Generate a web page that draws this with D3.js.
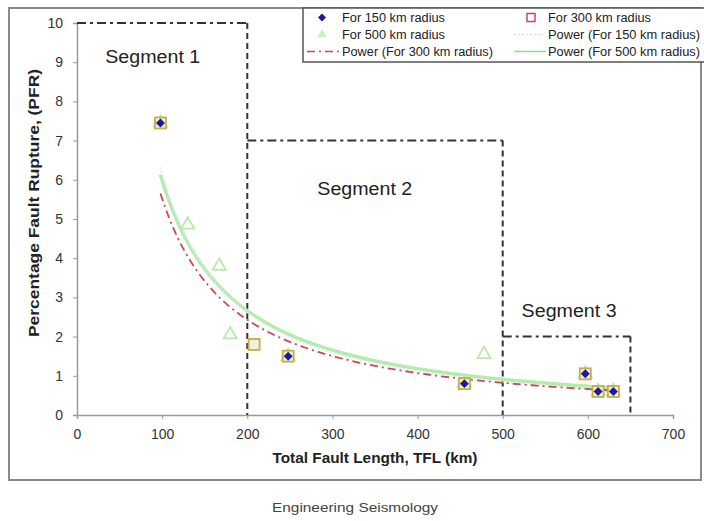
<!DOCTYPE html>
<html><head><meta charset="utf-8">
<script src="https://cdn.jsdelivr.net/npm/d3@7"></script>
<style>body{margin:0;background:#fff}svg{display:block;font-family:Arial,"Liberation Sans",sans-serif}</style>
</head><body><svg id="c" width="704" height="521"></svg>
<script>
// Data
const tfl150 = [98, 248, 455, 597, 612, 630];
const pfr150 = [7.45, 1.5, 0.8, 1.05, 0.6, 0.6];
const tfl300 = [98, 208, 248, 455, 597, 612, 630];
const pfr300 = [7.45, 1.8, 1.5, 0.8, 1.05, 0.6, 0.6];
const tfl500 = [98, 130, 167, 180, 248, 455, 478, 597, 612, 630];
const pfr500 = [7.45, 4.85, 3.8, 2.05, 1.5, 0.8, 1.55, 1.05, 0.6, 0.6];
const xTicks = [0, 100, 200, 300, 400, 500, 600, 700];
const yTicks = [0, 1, 2, 3, 4, 5, 6, 7, 8, 9, 10];
// segment boxes: [xStart, xEnd, top]
const segX0 = [0, 200, 500];
const segX1 = [200, 500, 650];
const segTop = [10, 7, 2];
const segLabels = ["Segment 1", "Segment 2", "Segment 3"];
const segLabelX = [89, 338, 578];
const segLabelY = [8.98, 5.6, 2.5];

const FONT = "Arial, 'Liberation Sans', sans-serif";
const svg = d3.select("#c");
const x = d3.scaleLinear().domain([0, 700]).range([77, 673]);
const y = d3.scaleLinear().domain([0, 10]).range([415, 23]);

// outer frame
svg.append("rect").attr("x", 9).attr("y", 8).attr("width", 692).attr("height", 472)
  .attr("fill", "none").attr("stroke", "#8a8a8a").attr("stroke-width", 2);

// axes
const gx = svg.append("g").attr("transform", `translate(0,${y(0)})`)
  .call(d3.axisBottom(x).tickValues(xTicks).tickSize(4).tickPadding(10));
const gy = svg.append("g").attr("transform", `translate(${x(0)},0)`)
  .call(d3.axisLeft(y).tickValues(yTicks).tickSize(4).tickPadding(10));
[gx, gy].forEach(g => {
  g.select(".domain").attr("stroke", "#9a9a9a").attr("stroke-width", 1.5);
  g.selectAll(".tick line").attr("stroke", "#9a9a9a");
  g.selectAll(".tick text").attr("fill", "#333").attr("font-size", 14).attr("font-family", FONT);
});

// axis titles
svg.append("text").attr("x", 375).attr("y", 463).attr("text-anchor", "middle")
  .attr("font-size", 14).attr("font-weight", "bold").attr("fill", "#222")
  .attr("textLength", 205).attr("lengthAdjust", "spacingAndGlyphs")
  .text("Total Fault Length, TFL (km)");
svg.append("text").attr("transform", "translate(39,203) rotate(-90)").attr("text-anchor", "middle")
  .attr("font-size", 14).attr("font-weight", "bold").attr("fill", "#222")
  .attr("textLength", 268).attr("lengthAdjust", "spacingAndGlyphs")
  .text("Percentage Fault Rupture, (PFR)");

// segment boxes
const segStroke = "#333";
segX0.forEach((s, i) => {
  svg.append("line").attr("x1", x(s)).attr("x2", x(segX1[i])).attr("y1", y(segTop[i])).attr("y2", y(segTop[i]))
    .attr("stroke", segStroke).attr("stroke-width", 2).attr("stroke-dasharray", "9,4,3,4");
  svg.append("line").attr("x1", x(segX1[i])).attr("x2", x(segX1[i])).attr("y1", y(segTop[i])).attr("y2", y(0))
    .attr("stroke", segStroke).attr("stroke-width", 2).attr("stroke-dasharray", "6,4");
  svg.append("text").attr("x", x(segLabelX[i])).attr("y", y(segLabelY[i])).attr("text-anchor", "middle")
    .attr("font-size", 18).attr("fill", "#222")
    .attr("textLength", 95).attr("lengthAdjust", "spacingAndGlyphs").text(segLabels[i]);
});

// power fit (least squares on log-log)
function powerFit(xs, ys) {
  const lx = xs.map(Math.log), ly = ys.map(Math.log);
  const mx = d3.mean(lx), my = d3.mean(ly);
  const b = d3.sum(lx.map((v, i) => (v - mx) * (ly[i] - my))) / d3.sum(lx.map(v => (v - mx) ** 2));
  const a = Math.exp(my - b * mx);
  return { a, b, x0: d3.min(xs), x1: d3.max(xs) };
}
function curvePts(f) {
  return d3.range(0, 101).map(k => {
    const xv = f.x0 + (f.x1 - f.x0) * k / 100;
    return [x(xv), y(f.a * Math.pow(xv, f.b))];
  });
}
const line = d3.line();
const f150 = powerFit(tfl150, pfr150), f300 = powerFit(tfl300, pfr300), f500 = powerFit(tfl500, pfr500);
svg.append("path").attr("d", line(curvePts(f500))).attr("fill", "none").attr("stroke", "#b4ecac").attr("stroke-width", 3.5);
svg.append("path").attr("d", line(curvePts(f150))).attr("fill", "none").attr("stroke", "#dfe8f6").attr("stroke-width", 1.5).attr("stroke-dasharray", "2,2");
svg.append("path").attr("d", line(curvePts(f300))).attr("fill", "none").attr("stroke", "#c84858").attr("stroke-width", 1.8).attr("stroke-dasharray", "8,4,2,4");

// markers
const tri = d3.symbol().type(d3.symbolTriangle).size(75);
svg.append("g").selectAll("path").data(tfl500.map((v, i) => [v, pfr500[i]])).join("path")
  .attr("d", tri).attr("transform", d => `translate(${x(d[0])},${y(d[1])})`)
  .attr("fill", "none").attr("stroke", "#b8eab0").attr("stroke-width", 1.8);
svg.append("g").selectAll("rect").data(tfl300.map((v, i) => [v, pfr300[i]])).join("rect")
  .attr("x", d => x(d[0]) - 5.5).attr("y", d => y(d[1]) - 5.5).attr("width", 11).attr("height", 11)
  .attr("fill", "#eef2d8").attr("stroke", "#c8ac48").attr("stroke-width", 1.8);
const dia = d3.symbol().type(d3.symbolSquare).size(40);
svg.append("g").selectAll("path").data(tfl150.map((v, i) => [v, pfr150[i]])).join("path")
  .attr("d", dia).attr("transform", d => `translate(${x(d[0])},${y(d[1])}) rotate(45)`)
  .attr("fill", "#1a1a9a");

// legend
const lg = svg.append("g");
lg.append("rect").attr("x", 303).attr("y", 8).attr("width", 405).attr("height", 54)
  .attr("fill", "#fff").attr("stroke", "#555").attr("stroke-width", 1.5);
const legNames = ["For 150 km radius", "For 300 km radius", "For 500 km radius", "Power (For 150 km radius)", "Power (For 300 km radius)", "Power (For 500 km radius)"];
const legLen = [103, 103, 103, 152, 151, 152];
const legCol = [0, 1, 0, 1, 0, 1];
const legRow = [0, 0, 1, 1, 2, 2];
const colX = [342, 548], rowY = [22, 39, 56], symX = [322, 531];
legNames.forEach((n, i) => {
  const tx = colX[legCol[i]], ty = rowY[legRow[i]], sx = symX[legCol[i]], sy = ty - 4.5;
  lg.append("text").attr("x", tx).attr("y", ty).attr("font-size", 12).attr("fill", "#222")
    .attr("textLength", legLen[i]).attr("lengthAdjust", "spacingAndGlyphs").text(n);
  if (i === 0) lg.append("path").attr("d", d3.symbol().type(d3.symbolSquare).size(32)).attr("transform", `translate(${sx},${sy}) rotate(45)`).attr("fill", "#1a1a9a");
  if (i === 1) lg.append("rect").attr("x", sx - 4).attr("y", sy - 4).attr("width", 8).attr("height", 8).attr("fill", "none").attr("stroke", "#c04868").attr("stroke-width", 1.5);
  if (i === 2) lg.append("path").attr("d", d3.symbol().type(d3.symbolTriangle).size(40)).attr("transform", `translate(${sx},${sy})`).attr("fill", "#c8f0c0");
  if (i === 3) lg.append("line").attr("x1", sx - 17).attr("x2", sx + 12).attr("y1", sy).attr("y2", sy).attr("stroke", "#d0dcf0").attr("stroke-dasharray", "2,2");
  if (i === 4) lg.append("line").attr("x1", 307).attr("x2", 340).attr("y1", sy).attr("y2", sy).attr("stroke", "#c84858").attr("stroke-width", 1.5).attr("stroke-dasharray", "8,4,2,4");
  if (i === 5) lg.append("line").attr("x1", sx - 17).attr("x2", sx + 15).attr("y1", sy).attr("y2", sy).attr("stroke", "#90dc88").attr("stroke-width", 1.5);
});

// footer
svg.append("text").attr("x", 355).attr("y", 512).attr("text-anchor", "middle").attr("font-size", 13).attr("fill", "#444")
  .attr("textLength", 166).attr("lengthAdjust", "spacingAndGlyphs")
  .text("Engineering Seismology");
</script></body></html>
